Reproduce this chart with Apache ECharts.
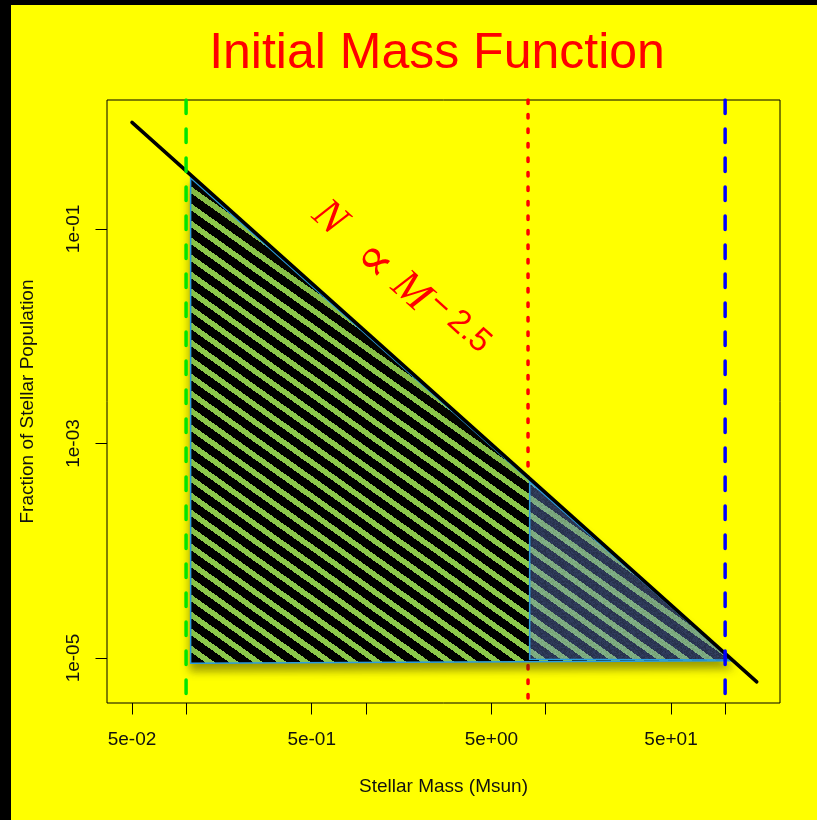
<!DOCTYPE html>
<html>
<head>
<meta charset="utf-8">
<script src="https://cdn.jsdelivr.net/npm/echarts@6/dist/echarts.min.js"></script>
<style>
  html, body { margin: 0; padding: 0; background: #ffff00; }
  #chart { width: 817px; height: 820px; }
</style>
</head>
<body>
<div id="chart"></div>
<script>
// ---- data ----
// power-law relation N ∝ M^-2.5 (straight line on log-log axes)
const lineMass = [0.05, 150];
const lineFrac = [0.984, 6.0e-6];

// shaded population region (hatched triangle under the relation)
const regionMass = [0.106, 108.7, 0.106];
const regionFrac = [0.299, 9.44e-6, 8.94e-6];

// high-mass part of the region (tinted overlay)
const highMass = [8.17, 108.7, 8.17];
const highFrac = [4.40e-4, 9.6e-6, 9.74e-6];

// reference masses marked by vertical lines
const lowLimitMass = 0.1;    // green dashed
const splitMass = 8;         // red dotted
const highLimitMass = 100;   // blue dashed

// axis ticks and labels
const xTickValues = [0.05, 0.1, 0.5, 1, 5, 10, 50, 100];
const xLabelValues = [0.05, 0.5, 5, 50];
const xLabelTexts = ['5e-02', '5e-01', '5e+00', '5e+01'];
const yTickValues = [1e-5, 1e-3, 1e-1];
const yLabelTexts = ['1e-05', '1e-03', '1e-01'];

const massRange = [0.0363, 202];
const fracRange = [3.81e-6, 1.59];

// annotation anchor (centre of the ∝ sign), in data units
const noteMass = 1.1;
const noteFrac = 0.0493;

// ---- helpers ----
function nearestText(v, vals, texts) {
  let best = 0;
  const lv = Math.log10(v);
  for (let i = 1; i < vals.length; i++) {
    if (Math.abs(lv - Math.log10(vals[i])) < Math.abs(lv - Math.log10(vals[best]))) best = i;
  }
  return texts[best];
}

function hexRgb(h) {
  return [parseInt(h.slice(1, 3), 16), parseInt(h.slice(3, 5), 16), parseInt(h.slice(5, 7), 16)];
}

// pixel stripe tile: diagonal bands running down to the right
function stripeTile(bg, fg) {
  const W = 24, H = 17;
  const c = document.createElement('canvas');
  c.width = W; c.height = H;
  const ctx = c.getContext('2d');
  const img = ctx.createImageData(W, H);
  const b = hexRgb(bg), f = hexRgb(fg);
  for (let y = 0; y < H; y++) {
    for (let x = 0; x < W; x++) {
      let p = (y - x * H / W) % H;
      if (p < 0) p += H;
      const col = (p / H) < 0.4 ? f : b;
      const k = (y * W + x) * 4;
      img.data[k] = col[0]; img.data[k + 1] = col[1]; img.data[k + 2] = col[2]; img.data[k + 3] = 255;
    }
  }
  ctx.putImageData(img, 0, 0);
  return { image: c, repeat: 'repeat' };
}

// translucent blue tint with a fine speckled texture
function tintTile() {
  const S = 32;
  const c = document.createElement('canvas');
  c.width = S; c.height = S;
  const ctx = c.getContext('2d');
  const img = ctx.createImageData(S, S);
  for (let y = 0; y < S; y++) {
    for (let x = 0; x < S; x++) {
      const h = Math.abs(Math.sin(x * 12.9898 + y * 78.233) * 43758.5453) % 1;
      const k = (y * S + x) * 4;
      const shade = 0.82 + 0.3 * h;
      img.data[k] = Math.min(255, 108 * shade);
      img.data[k + 1] = Math.min(255, 135 * shade);
      img.data[k + 2] = Math.min(255, 208 * shade);
      img.data[k + 3] = 107;
    }
  }
  ctx.putImageData(img, 0, 0);
  return { image: c, repeat: 'repeat' };
}

const hatch = stripeTile('#000000', '#8cc84b');
const tint = tintTile();

function polygonSeries(name, masses, fracs, fill, z, extraStyle) {
  return {
    name: name,
    type: 'custom',
    coordinateSystem: 'cartesian2d',
    encode: { x: 0, y: 1 },
    data: masses.map((m, i) => [m, fracs[i]]),
    silent: true,
    z: z,
    renderItem: function (params, api) {
      if (params.dataIndex !== 0) return;
      const pts = masses.map((m, i) => api.coord([m, fracs[i]]));
      return {
        type: 'polygon',
        shape: { points: pts },
        style: Object.assign({ fill: fill, stroke: '#2a9de0', lineWidth: 1.5 }, extraStyle || {})
      };
    }
  };
}

function vline(name, mass, color, dash, z) {
  return {
    name: name,
    type: 'line',
    z: z,
    data: [[mass, fracRange[1]], [mass, fracRange[0]]],
    symbol: 'none',
    silent: true,
    lineStyle: { color: color, width: 3.5, type: dash, cap: 'round' }
  };
}

const chart = echarts.init(document.getElementById('chart'), null, { renderer: 'canvas' });

const axisFont = { fontFamily: "'Liberation Sans', Arial, sans-serif", fontSize: 19, color: '#111' };

chart.setOption({
  animation: false,
  backgroundColor: '#ffff00',
  title: {
    text: 'Initial Mass Function',
    left: 432,
    top: 24,
    textAlign: 'center',
    textStyle: { color: '#ff0000', fontSize: 50, fontWeight: 'normal', fontFamily: "'Liberation Sans', Arial, sans-serif" }
  },
  grid: {
    left: 107, top: 100, right: 37, bottom: 117,
    show: true, borderColor: '#000', borderWidth: 1, backgroundColor: 'transparent'
  },
  xAxis: {
    type: 'log',
    logBase: 10,
    min: massRange[0],
    max: massRange[1],
    name: 'Stellar Mass (Msun)',
    nameLocation: 'middle',
    nameGap: 74,
    nameTextStyle: axisFont,
    axisLine: { show: false },
    splitLine: { show: false },
    minorTick: { show: false },
    axisTick: { show: true, length: 11.5, lineStyle: { color: '#000', width: 1 }, customValues: xTickValues },
    axisLabel: Object.assign({
      margin: 27,
      customValues: xLabelValues,
      formatter: v => nearestText(v, xLabelValues, xLabelTexts)
    }, axisFont)
  },
  yAxis: {
    type: 'log',
    logBase: 10,
    min: fracRange[0],
    max: fracRange[1],
    name: 'Fraction of Stellar Population',
    nameLocation: 'middle',
    nameGap: 70,
    nameRotate: 90,
    nameTextStyle: axisFont,
    axisLine: { show: false },
    splitLine: { show: false },
    minorTick: { show: false },
    axisTick: { show: true, length: 11.5, lineStyle: { color: '#000', width: 1 }, customValues: yTickValues },
    axisLabel: Object.assign({
      margin: 24,
      rotate: 90,
      customValues: yTickValues,
      formatter: v => nearestText(v, yTickValues, yLabelTexts)
    }, axisFont)
  },
  series: [
    vline('split', splitMass, '#ff0000', [3.5, 11], 1),
    polygonSeries('region', regionMass, regionFrac, hatch, 2,
      { shadowBlur: 8, shadowOffsetY: 7, shadowColor: 'rgba(60,60,0,0.5)' }),
    polygonSeries('high', highMass, highFrac, tint, 3),
    {
      name: 'relation',
      type: 'line',
      z: 4,
      data: lineMass.map((m, i) => [m, lineFrac[i]]),
      symbol: 'none',
      silent: true,
      lineStyle: { color: '#000', width: 3.5, cap: 'round' }
    },
    vline('low', lowLimitMass, '#00e600', [13.5, 15.5], 5),
    vline('highLimit', highLimitMass, '#0000ff', [13.5, 15.5], 5)
  ]
});

// rotated formula label along the relation line
const anchor = chart.convertToPixel({ xAxisIndex: 0, yAxisIndex: 0 }, [noteMass, noteFrac]);
const serif = "'Liberation Serif', 'DejaVu Serif', serif";
const sans = "'Liberation Sans', Arial, sans-serif";
const red = '#ff0000';
function glyph(text, x, y, font) {
  return { type: 'text', x: x, y: y, style: { text: text, fill: red, font: font, textAlign: 'center', textVerticalAlign: 'middle' } };
}
chart.setOption({
  graphic: [
    { type: 'rect', shape: { x: 0, y: 0, width: 817, height: 5 }, style: { fill: '#000' }, z: 100 },
    { type: 'rect', shape: { x: 0, y: 0, width: 11, height: 820 }, style: { fill: '#000' }, z: 100 },
    {
      type: 'group',
      x: anchor[0],
      y: anchor[1],
      rotation: -42 * Math.PI / 180,
      z: 50,
      children: [
        glyph('N', -62, -3, 'italic 44px ' + serif),
        glyph('∝', 0, 0, '52px ' + serif),
        glyph('M', 48, -3, 'italic 44px ' + serif),
        glyph('−', 79, -12, '33px ' + sans),
        glyph('2.5', 118, -12, '33px ' + sans)
      ]
    }
  ]
});
</script>
</body>
</html>
